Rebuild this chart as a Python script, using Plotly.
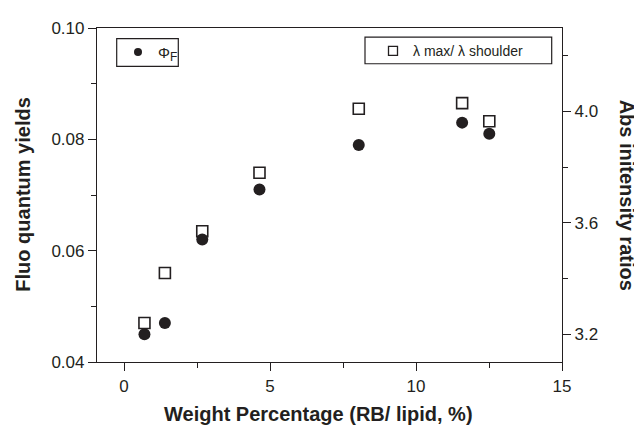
import plotly.graph_objects as go

# Data
weight_pct = [0.7, 1.4, 2.68, 4.64, 8.04, 11.58, 12.51]
phi_f = [0.045, 0.047, 0.062, 0.071, 0.079, 0.083, 0.081]
abs_ratio = [3.24, 3.42, 3.57, 3.78, 4.01, 4.03, 3.965]

x_ticks = [0, 5, 10, 15]
y1_ticks = [0.04, 0.06, 0.08, 0.10]
y2_ticks = [3.2, 3.6, 4.0]

FONT = "Arial, Liberation Sans, sans-serif"
INK = "#231f20"

# page body has an 8px margin, so the figure is drawn at (8, 8)
OFF = 8
W, H = 642 - OFF, 425 - OFF
X0, X1, Y0, Y1 = 97, 562, 19, 361.7  # plot area in window pixels
L, R, T, B = X0 - OFF, W - (X1 - OFF), Y0 - OFF, H - (Y1 - OFF)
pw, ph = W - L - R, H - T - B

def px(x):
    return (x - X0) / pw

def py(y):
    return (Y1 - y) / ph

fig = go.Figure()
fig.add_trace(go.Scatter(
    x=weight_pct, y=phi_f, mode="markers", name="Φ<sub>F</sub>",
    marker=dict(symbol="circle", size=12, color=INK, line=dict(width=0)),
    showlegend=False, yaxis="y",
))
fig.add_trace(go.Scatter(
    x=weight_pct, y=abs_ratio, mode="markers", name="λmax/ λshoulder",
    marker=dict(symbol="square-open", size=11, color=INK, line=dict(width=1.6)),
    showlegend=False, yaxis="y2",
))
# legend entries (smaller symbols, as in the reference)
fig.add_trace(go.Scatter(
    x=[None], y=[None], mode="markers",
    name="Φ<sub><span style='font-size:12px'>F</span></sub>",
    marker=dict(symbol="circle", size=8, color=INK, line=dict(width=0)),
    legend="legend",
))
fig.add_trace(go.Scatter(
    x=[None], y=[None], mode="markers", name="λ max/ λ shoulder",
    marker=dict(symbol="square-open", size=9, color=INK, line=dict(width=1.3)),
    legend="legend2", yaxis="y2",
))

axis_common = dict(
    showline=True, linecolor=INK, linewidth=1.2, showgrid=False, zeroline=False,
    ticks="outside", tickcolor=INK, tickwidth=1.2, ticklen=8,
    tickfont=dict(family=FONT, size=17, color=INK),
)
minor_common = dict(ticks="outside", ticklen=5, tickcolor=INK, tickwidth=1.2)

fig.update_layout(
    width=W, height=H,
    margin=dict(l=L, r=R, t=T, b=B),
    plot_bgcolor="white", paper_bgcolor="white",
    showlegend=True,
    xaxis=dict(
        range=[-0.925, 15], tickvals=x_ticks, ticktext=[str(v) for v in x_ticks],
        minor=dict(tickvals=[2.5, 7.5, 12.5], **minor_common),
        mirror=True, **axis_common,
    ),
    yaxis=dict(
        range=[0.04, 0.10], tickvals=y1_ticks, ticktext=[f"{v:.2f}" for v in y1_ticks],
        minor=dict(tickvals=[0.05, 0.07, 0.09], **minor_common),
        **axis_common,
    ),
    yaxis2=dict(
        range=[3.1, 4.3], tickvals=y2_ticks, ticktext=[f"{v:.1f}" for v in y2_ticks],
        minor=dict(tickvals=[3.4, 3.8, 4.2], **minor_common),
        overlaying="y", side="right", anchor="x",
        **axis_common,
    ),
    legend=dict(
        x=px(118), y=py(27), xanchor="left", yanchor="top",
        bgcolor="rgba(0,0,0,0)", borderwidth=0,
        font=dict(family=FONT, size=15, color=INK),
    ),
    legend2=dict(
        x=px(373), y=py(26.5), xanchor="left", yanchor="top",
        bgcolor="rgba(0,0,0,0)", borderwidth=0,
        font=dict(family=FONT, size=14, color=INK),
    ),
    shapes=[
        dict(type="rect", xref="paper", yref="paper",
             x0=px(116.7), x1=px(178.3), y0=py(58.3), y1=py(30),
             line=dict(color=INK, width=1.2)),
        dict(type="rect", xref="paper", yref="paper",
             x0=px(365), x1=px(551.7), y0=py(55.7), y1=py(28.3),
             line=dict(color=INK, width=1.2)),
    ],
    annotations=[
        dict(text="<b>Weight Percentage (RB/ lipid, %)</b>", xref="paper", yref="paper",
             x=px(318), y=py(415), xanchor="center", yanchor="middle", showarrow=False,
             font=dict(family=FONT, size=20, color=INK)),
        dict(text="<b>Fluo quantum yields</b>", xref="paper", yref="paper",
             x=px(23), y=py(190), xanchor="center", yanchor="middle", showarrow=False,
             textangle=-90, font=dict(family=FONT, size=20, color=INK)),
        dict(text="<b>Abs initensity ratios</b>", xref="paper", yref="paper",
             x=px(627), y=py(190), xanchor="center", yanchor="middle", showarrow=False,
             textangle=90, font=dict(family=FONT, size=20, color=INK)),
    ],
)

fig.write_html("out.html")
